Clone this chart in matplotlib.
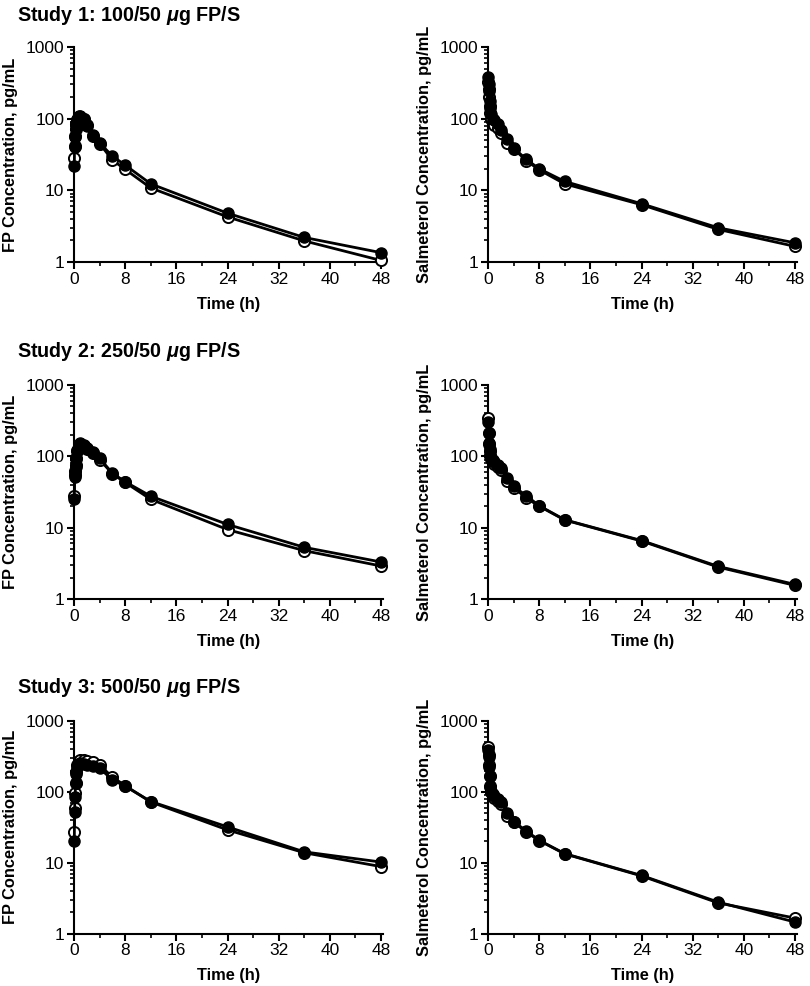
import numpy as np
import matplotlib
matplotlib.use("Agg")
import matplotlib.pyplot as plt
from matplotlib.ticker import FixedLocator, LogLocator, NullFormatter

plt.rcParams['font.family'] = ['Liberation Sans', 'DejaVu Sans']
plt.rcParams['mathtext.fontset'] = 'custom'
plt.rcParams['mathtext.rm'] = 'Liberation Sans:bold'
plt.rcParams['mathtext.it'] = 'Liberation Sans:italic:bold'

# sampling times (h)
times = [0.05, 0.08, 0.17, 0.25, 0.33, 0.5, 0.75, 1, 1.5, 2, 3, 4, 6, 8, 12, 24, 36, 48]

# Study 1: FP
fp1_filled = [22, 40, 56, 73, 88, 100, 110, 108, 100, 78, 59, 46, 30, 22.5, 12.3, 4.8, 2.2, 1.35]
fp1_open = [28, 42, 58, 72, 85, 97, 104, 106, 98, 82, 58, 45, 26.5, 19.6, 10.8, 4.26, 1.97, 1.05]
# Study 1: salmeterol
sa1_filled = [380, 300, 240, 175, 140, 115, 100, 95, 85, 70, 52, 39, 27, 20, 13.3, 6.5, 3.0, 1.85]
sa1_open = [330, 260, 200, 150, 120, 100, 90, 82, 75, 63, 46, 38, 26, 19.3, 12.3, 6.3, 2.85, 1.65]

# Study 2: FP
fp2_filled = [25, 51, 60, 71, 92, 121, 145, 152, 145, 132, 114, 94, 58, 44, 27.6, 11.1, 5.3, 3.3]
fp2_open = [28, 55, 62, 75, 95, 120, 140, 148, 140, 128, 110, 90, 57, 43, 25, 9.4, 4.76, 2.9]
# Study 2: salmeterol
sa2_filled = [300, 210, 155, 125, 105, 95, 88, 82, 76, 68, 49.5, 37.8, 28, 20.3, 12.9, 6.6, 2.86, 1.6]
sa2_open = [340, 215, 150, 120, 100, 92, 85, 78, 72, 65, 45.7, 36.5, 26, 20, 12.8, 6.5, 2.8, 1.55]

# Study 3: FP
fp3_filled = [20, 52, 85, 132, 180, 225, 250, 252, 245, 240, 232, 215, 148, 120, 73, 32, 14.2, 10.2]
fp3_open = [27, 60, 95, 135, 190, 240, 270, 285, 285, 275, 265, 238, 162, 122, 72, 29, 13.8, 8.8]
# Study 3: salmeterol
sa3_filled = [390, 310, 225, 165, 118, 100, 92, 88, 80, 73, 50, 38, 28, 20.7, 13.4, 6.6, 2.77, 1.45]
sa3_open = [425, 330, 240, 170, 120, 98, 88, 82, 75, 68, 45, 37.5, 27, 20.5, 13.3, 6.5, 2.7, 1.65]

titles = [r"Study 1: 100/50 $\mu$g FP/S",
          r"Study 2: 250/50 $\mu$g FP/S",
          r"Study 3: 500/50 $\mu$g FP/S"]
fp_ylabel = "FP Concentration, pg/mL"
sa_ylabel = "Salmeterol Concentration, pg/mL"

panels = [
    [(fp1_filled, fp1_open), (sa1_filled, sa1_open)],
    [(fp2_filled, fp2_open), (sa2_filled, sa2_open)],
    [(fp3_filled, fp3_open), (sa3_filled, sa3_open)],
]

fig = plt.figure(figsize=(8.1, 9.86), dpi=100)
W, H = 810, 986

# pixel layout: (top y of 1000, bottom y of 1), title baseline
rows = [(47, 262, 21), (385, 599, 357), (721, 933.5, 693)]
lefts = [74, 488]
width_px = 309

for r, (ytop, ybot, tbase) in enumerate(rows):
    fig.text(17 / W, 1 - tbase / H, titles[r], fontsize=14.2, fontweight='bold',
             va='baseline', ha='left')
    for c in range(2):
        ax = fig.add_axes([lefts[c] / W, 1 - ybot / H, width_px / W, (ybot - ytop) / H])
        filled, opened = panels[r][c]
        ax.plot(times, opened, '-', color='black', lw=2.0, marker='o', ms=8,
                mfc='white', mec='black', mew=1.4, clip_on=False, zorder=3)
        ax.plot(times, filled, '-', color='black', lw=2.0, marker='o', ms=8,
                mfc='black', mec='black', clip_on=False, zorder=4)
        ax.set_yscale('log')
        ax.set_ylim(1, 1000)
        ax.set_xlim(0, 48.3)
        ax.set_yticks([1, 10, 100, 1000])
        ax.set_yticklabels(['1', '10', '100', '1000'])
        ax.yaxis.set_minor_locator(LogLocator(base=10, subs=np.arange(2, 10)))
        ax.yaxis.set_minor_formatter(NullFormatter())
        ax.set_xticks([0, 8, 16, 24, 32, 40, 48])
        ax.xaxis.set_minor_locator(FixedLocator([4, 12, 20, 28, 36, 44]))
        for s in ['top', 'right']:
            ax.spines[s].set_visible(False)
        for s in ['left', 'bottom']:
            ax.spines[s].set_linewidth(1.5)
        ax.tick_params(which='major', length=5, width=1.5, labelsize=12.5, pad=2)
        ax.tick_params(which='minor', length=3, width=1.2)
        ax.set_xlabel("Time (h)", fontsize=11.8, fontweight='bold')
        ax.xaxis.set_label_coords(0.5, -0.163)
        ax.set_ylabel(fp_ylabel if c == 0 else sa_ylabel, fontsize=11.8, fontweight='bold')
        ax.yaxis.set_label_coords(-0.18, 0.5)

fig.savefig("out.png", dpi=100)
